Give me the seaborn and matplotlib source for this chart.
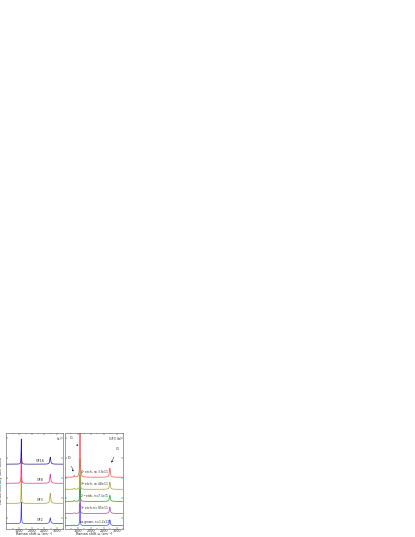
import numpy as np
import pandas as pd
import matplotlib
matplotlib.use("Agg")
import matplotlib.pyplot as plt
import seaborn as sns

# panel (a): samples, vertical offsets and peak parameters
left_samples = ["GF2", "GF3", "GF8", "GF16"]
left_colors = ["#3a3aff", "#a8a030", "#ff2a8a", "#1c1c8c"]
left_offsets = [0.25, 1.25, 2.25, 3.2]
left_g_height = [1.05, 1.3, 1.5, 1.25]
left_2d_height = [0.28, 0.5, 0.45, 0.35]

# panel (b): GF3 etching series
right_samples = ["as-grown, n=1.2e12", "1$^{st}$ etch, n=9.5e11", "2$^{nd}$ etch, n=7.1e11",
                 "3$^{rd}$ etch, n=4.8e11", "4$^{th}$ etch, n=3.5e11"]
right_colors = ["#4444ff", "#a848c0", "#28a028", "#a8a030", "#ff4a4a"]
right_offsets = [0.15, 0.75, 1.35, 1.95, 2.55]
right_g_height = [1.1, 1.2, 1.3, 1.5, 5.0]
right_2d_height = [0.28, 0.32, 0.3, 0.35, 0.45]
right_d_height = [0.02, 0.03, 0.04, 0.05, 0.08]

g_pos, g_w = 1582, 9
d_pos, d_w = 1355, 15
p2d_pos, p2d_w = 2740, 22

shift = np.arange(950, 3251, 2.0)


def lorentz(x, x0, w, h):
    return h * w**2 / ((x - x0) ** 2 + w**2)


def build(samples, offsets, g_h, p2d_h, d_h=None):
    rows = []
    for i, name in enumerate(samples):
        y = offsets[i] + lorentz(shift, g_pos, g_w, g_h[i]) + lorentz(shift, p2d_pos, p2d_w, p2d_h[i])
        if d_h is not None:
            y = y + lorentz(shift, d_pos, d_w, d_h[i])
        rows.append(pd.DataFrame({"shift": shift, "intensity": y, "sample": name}))
    return pd.concat(rows, ignore_index=True)


df_a = build(left_samples, left_offsets, left_g_height, left_2d_height)
df_b = build(right_samples, right_offsets, right_g_height, right_2d_height, right_d_height)

sns.set_style("ticks")
plt.rcParams["font.family"] = ["DejaVu Sans"]
fs = 2.4

fig = plt.figure(figsize=(4.15, 5.37), dpi=100)
ax1 = fig.add_axes([5.5 / 415, 1 - 528.5 / 537, 57.5 / 415, 95.5 / 537])
ax2 = fig.add_axes([65 / 415, 1 - 528.5 / 537, 58 / 415, 95.5 / 537])

sns.lineplot(data=df_a, x="shift", y="intensity", hue="sample", palette=left_colors,
             hue_order=left_samples, linewidth=0.5, legend=False, ax=ax1)
sns.lineplot(data=df_b, x="shift", y="intensity", hue="sample", palette=right_colors,
             hue_order=right_samples, linewidth=0.5, legend=False, ax=ax2)

for ax, xl in [(ax1, (950, 3250)), (ax2, (1000, 3250))]:
    ax.set_xlim(*xl)
    ax.set_ylim(0, 4.75)
    ax.set_xticks([1500, 2000, 2500, 3000])
    ax.set_xticks([1250, 1750, 2250, 2750, 3250], minor=True)
    ax.set_yticks([0.5, 1.5, 2.5, 3.5, 4.5])
    ax.set_yticklabels([])
    ax.tick_params(direction="in", top=True, right=True, length=1.5, width=0.3,
                   labelsize=fs, pad=0.4)
    ax.tick_params(which="minor", direction="in", top=True, length=0.8, width=0.3)
    for s in ax.spines.values():
        s.set_linewidth(0.4)
        s.set_color("#555555")
    ax.set_xlabel("Raman shift \u03c9 (cm\u207b\u00b9)", fontsize=fs)
    ax.xaxis.set_label_coords(0.5, -0.036)
    ax.set_ylabel("")

ax1.set_ylabel("Raman Intensity (arb. units)", fontsize=fs)
ax1.yaxis.set_label_coords(-0.035, 0.5)

# sample labels
for i, name in enumerate(left_samples):
    ax1.text(2330, left_offsets[i] + 0.08, name, fontsize=fs, ha="center", va="bottom")
for i, name in enumerate(right_samples):
    ax2.text(2150, right_offsets[i] + 0.08, name, fontsize=fs * 0.85, ha="center", va="bottom")

ax1.text(0.97, 0.96, "(a)", transform=ax1.transAxes, fontsize=fs, ha="right", va="top")
ax2.text(0.97, 0.96, "GF3 (b)", transform=ax2.transAxes, fontsize=fs, ha="right", va="top")

arrow = dict(arrowstyle="-|>", lw=0.3, color="black", mutation_scale=2)
ax2.annotate("G", xy=(1575, 4.0), xytext=(1230, 4.5), fontsize=fs, ha="center", va="center",
             arrowprops=arrow)
ax2.annotate("D", xy=(1350, 2.7), xytext=(1160, 3.5), fontsize=fs, ha="center", va="center",
             arrowprops=arrow)
ax2.annotate("G'", xy=(2760, 3.15), xytext=(3030, 3.95), fontsize=fs, ha="center", va="center",
             arrowprops=arrow)

fig.savefig("out.png", dpi=100)
